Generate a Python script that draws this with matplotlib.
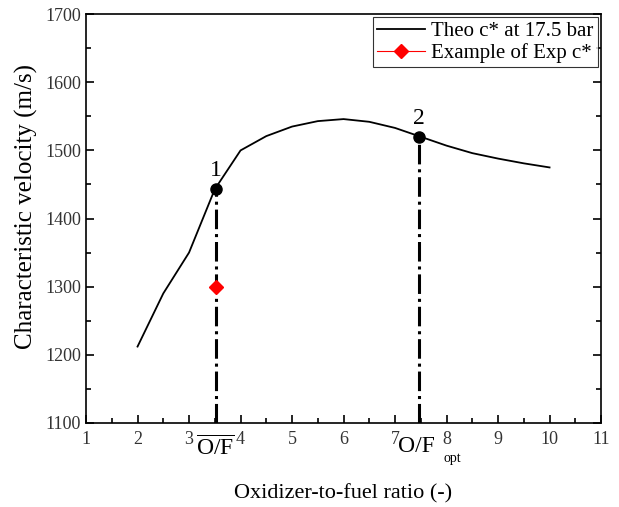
import matplotlib.pyplot as plt
from matplotlib.ticker import MultipleLocator

plt.rcParams['font.family'] = 'Liberation Serif'
plt.rcParams['mathtext.fontset'] = 'custom'
plt.rcParams['mathtext.rm'] = 'Liberation Serif'
plt.rcParams['mathtext.it'] = 'Liberation Serif:italic'

# theoretical c* curve at 17.5 bar
of_ratio = [2.0, 2.5, 3.0, 3.5, 4.0, 4.5, 5.0, 5.5, 6.0, 6.5, 7.0, 7.5, 8.0, 8.5, 9.0, 9.5, 10.0]
c_star = [1212, 1290, 1350, 1443, 1500, 1521, 1535, 1543, 1546, 1542, 1533, 1520, 1507, 1496, 1488, 1481, 1475]

# marked points
p1_x, p1_y = 3.52, 1443
p2_x, p2_y = 7.46, 1520
exp_x, exp_y = 3.52, 1300

fig = plt.figure(figsize=(6.19, 5.07), dpi=100)
ax = fig.add_axes([0.139, 0.166, 0.832, 0.806])

ax.plot(of_ratio, c_star, color='black', lw=1.3, label='Theo c* at 17.5 bar')
ax.plot([exp_x], [exp_y], color='red', marker='D', ms=7, lw=0.8, label='Example of Exp c*')

ax.plot([p1_x, p1_x], [1100, p1_y], color='black', ls='-.', lw=2.2, zorder=1)
ax.plot([p2_x, p2_x], [1100, p2_y], color='black', ls='-.', lw=2.2, zorder=1)
ax.plot([p1_x, p2_x], [p1_y, p2_y], 'o', color='black', ms=8, zorder=3)
ax.text(p1_x, p1_y + 12, '1', fontsize=17, ha='center', va='bottom')
ax.text(p2_x, p2_y + 12, '2', fontsize=17, ha='center', va='bottom')

ax.set_xlim(1, 11)
ax.set_ylim(1100, 1700)
ax.xaxis.set_major_locator(MultipleLocator(1))
ax.xaxis.set_minor_locator(MultipleLocator(0.5))
ax.yaxis.set_major_locator(MultipleLocator(100))
ax.yaxis.set_minor_locator(MultipleLocator(50))
ax.tick_params(which='both', direction='in', right=True, labelsize=13, colors='black')
ax.tick_params(axis='both', labelcolor='#333333')
ax.tick_params(axis='x', pad=6)
ax.tick_params(which='major', length=6, width=1.2)
ax.tick_params(which='minor', length=3.5, width=1.2)
for s in ax.spines.values():
    s.set_linewidth(1.2)

ax.set_xlabel('Oxidizer-to-fuel ratio (-)', fontsize=16, labelpad=26)
ax.set_ylabel('Characteristic velocity (m/s)', fontsize=18)
ax.yaxis.set_label_coords(-0.094, 0.53)

ax.text(p1_x, 1080, r'$\overline{\mathrm{O/F}}$', fontsize=17, ha='center', va='top')
ax.text(7.42, 1081, 'O/F', fontsize=17, ha='center', va='top')
ax.text(8.12, 1057, 'opt', fontsize=10, ha='center', va='top')

leg = ax.legend(loc='upper right', fontsize=15, frameon=True, fancybox=False,
                edgecolor='black', borderpad=0.2, handlelength=2.3,
                labelspacing=0.1, borderaxespad=0.15, handletextpad=0.3)
leg.get_frame().set_linewidth(0.8)

fig.savefig('out.png', dpi=100)
